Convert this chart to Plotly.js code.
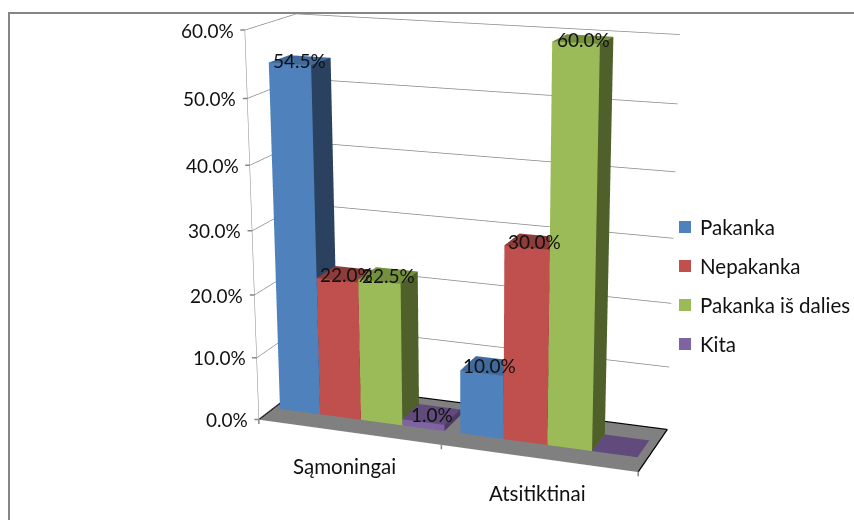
<!DOCTYPE html><html><head><meta charset="utf-8"><script src="https://cdn.plot.ly/plotly-3.0.1.min.js"></script>
<style>
html,body{margin:0;padding:0;background:#fff;overflow:hidden}
#frame{position:absolute;left:0;top:0;width:854px;height:520px;overflow:hidden}
#chart{position:absolute;left:0;top:-480px}
</style></head><body>
<div id="frame"><div id="chart"></div></div>
<script>
// Chart data
const categories = ['Sąmoningai', 'Atsitiktinai'];
const seriesNames = ['Pakanka', 'Nepakanka', 'Pakanka iš dalies', 'Kita'];
const pakanka = [54.5, 10];
const nepakanka = [22, 30];
const pakankaIsDalies = [22.5, 60];
const kita = [1, 0];
const valueLabels = [['54.5%', '10.0%'], ['22.0%', '30.0%'], ['22.5%', '60.0%'], ['1.0%', '']];
const axisValues = [0, 10, 20, 30, 40, 50, 60];
const seriesValues = [pakanka, nepakanka, pakankaIsDalies, kita];

// Face colours for each series
const frontColors = ['#4F81BD', '#C0504D', '#9BBB59', '#8064A2'];
const sideColors = ['#2A4160', '#7F3230', '#4F602B', '#4D3B62'];
const topColors = ['#3F6A9B', '#8E3C3A', '#74903F', '#604B7C'];

// The scene is larger than the visible frame: a long lens needs a tall viewport.
const sceneWidth = 952, sceneHeight = 1454, sceneLeft = 0, sceneTop = -480;
const toPaperX = x => (x - sceneLeft) / sceneWidth;
const toPaperY = y => 1 - (y - sceneTop) / sceneHeight;

// Bar footprint inside each category slot and depth band
const gap = 0.085, slotOffset = 0.036, barWidth = (1 - gap) / 4, depthFront = 0.3, depthBack = 0.7;
const barStart = (c, s) => c + slotOffset + s * barWidth;

const traces = seriesNames.map((name, s) => {
  const x = [], y = [], z = [], i = [], j = [], k = [], facecolor = [];
  seriesValues[s].forEach((v, c) => {
    const a = barStart(c, s), b = a + barWidth, o = x.length;
    [[a, depthFront, 0], [b, depthFront, 0], [b, depthFront, v], [a, depthFront, v],
     [a, depthBack, 0], [b, depthBack, 0], [b, depthBack, v], [a, depthBack, v]]
      .forEach(q => { x.push(q[0]); y.push(q[1]); z.push(q[2]); });
    const tri = (A, B, C, col) => { i.push(o + A); j.push(o + B); k.push(o + C); facecolor.push(col); };
    tri(0, 1, 2, frontColors[s]); tri(0, 2, 3, frontColors[s]);
    tri(1, 5, 6, sideColors[s]); tri(1, 6, 2, sideColors[s]);
    tri(3, 2, 6, topColors[s]); tri(3, 6, 7, topColors[s]);
  });
  return { type: 'mesh3d', name, x, y, z, i, j, k, facecolor, flatshading: true,
    lighting: { ambient: 1, diffuse: 0, specular: 0, roughness: 1, fresnel: 0 },
    hoverinfo: 'skip', showlegend: false };
});

// Dark outline around the back and right of the floor
traces.push({ type: 'scatter3d', mode: 'lines', x: [0, 0, 2, 2], y: [0, 1, 1, 0], z: [0, 0, 0, 0],
  line: { color: '#000', width: 2.5 }, hoverinfo: 'skip', showlegend: false });

const font = { family: 'Lato, sans-serif', size: 19, color: '#111' };
const wideFont = Object.assign({}, font, { size: 20.5 });
const tickMark = { text: '', showarrow: true, arrowhead: 0, arrowwidth: 1.5, arrowcolor: '#868686', standoff: 0 };
const sceneNotes = [];
axisValues.forEach(v => {
  sceneNotes.push({ x: 0, y: 0, z: v, text: v.toFixed(1) + '%', showarrow: false, xanchor: 'right', xshift: -9, font });
  sceneNotes.push(Object.assign({ x: 0, y: 0, z: v, ax: -6, ay: 0 }, tickMark));
});
[0, 1, 2].forEach(x => sceneNotes.push(Object.assign({ x, y: 0, z: 0, ax: 0, ay: 6 }, tickMark)));
seriesValues.forEach((arr, s) => arr.forEach((v, c) => {
  if (valueLabels[s][c]) sceneNotes.push({ x: barStart(c, s) + barWidth / 2, y: 0.5, z: v,
    text: valueLabels[s][c], showarrow: false, font });
}));
const categoryShiftX = [-4, 0], categoryShiftY = [-34, -35];
categories.forEach((name, c) => sceneNotes.push({ x: c + 0.5, y: 0, z: 0, text: name, showarrow: false,
  xshift: categoryShiftX[c], yshift: categoryShiftY[c], font: wideFont }));

// Outer border: left and top edges only
const shapes = [
  { type: 'line', xref: 'paper', yref: 'paper', x0: toPaperX(9), x1: toPaperX(9), y0: toPaperY(13), y1: toPaperY(520), line: { color: '#868686', width: 2 } },
  { type: 'line', xref: 'paper', yref: 'paper', x0: toPaperX(8), x1: toPaperX(854), y0: toPaperY(13), y1: toPaperY(13), line: { color: '#868686', width: 2 } }
];
// Legend column
const legendRows = [227, 266, 305, 344];
const paperNotes = [];
legendRows.forEach((y, s) => {
  shapes.push({ type: 'rect', xref: 'paper', yref: 'paper', x0: toPaperX(679), x1: toPaperX(691), y0: toPaperY(y - 6), y1: toPaperY(y + 6), fillcolor: frontColors[s], line: { width: 0 } });
  paperNotes.push({ xref: 'paper', yref: 'paper', x: toPaperX(698), y: toPaperY(y), text: seriesNames[s], showarrow: false, xanchor: 'left', font: wideFont });
});

const axis = o => Object.assign({ showgrid: false, showticklabels: false, title: { text: '' },
  showbackground: false, zeroline: false, showspikes: false, ticks: '' }, o);

Plotly.newPlot('chart', traces, {
  width: sceneWidth, height: sceneHeight, paper_bgcolor: '#fff',
  margin: { l: 0, r: 0, t: 0, b: 0 }, showlegend: false, shapes, annotations: paperNotes,
  scene: {
    domain: { x: [0, 1], y: [0, 1] }, aspectmode: 'manual',
    aspectratio: { x: 0.9993, y: 0.2869, z: 1 }, annotations: sceneNotes,
    camera: { eye: { x: 1.4464, y: -3.9058, z: 1.1459 }, center: { x: -0.1682, y: 0.575, z: -0.201 }, up: { x: 0, y: 0, z: 1 } },
    xaxis: axis({ range: [0, 2], dtick: 1, showline: true, linecolor: '#868686' }),
    yaxis: axis({ range: [0, 1] }),
    zaxis: axis({ range: [0, 60], dtick: 10, showgrid: true, gridcolor: '#868686', gridwidth: 1.5,
      showline: true, linecolor: '#868686', showbackground: true, backgroundcolor: '#808080' })
  }
}, { displayModeBar: false });
</script></body></html>
